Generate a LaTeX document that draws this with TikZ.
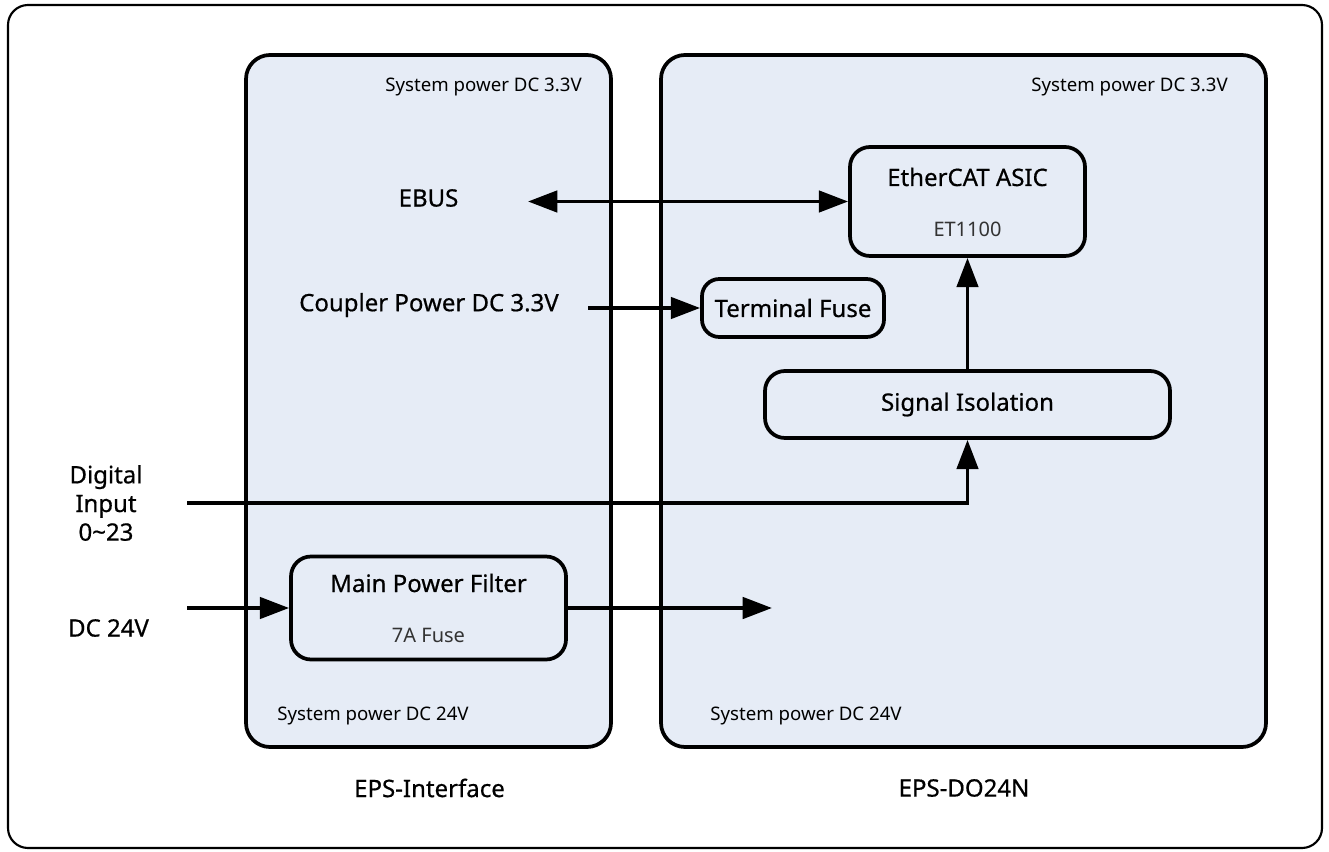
\documentclass[tikz,border=0pt]{standalone}
\usepackage{fontspec}
\setmainfont{Noto Sans}
\newfontfamily\lblfont{Noto Sans}[FakeBold=0.6]
\usetikzlibrary{arrows.meta}
\definecolor{boxfill}{RGB}{230,236,246}
\tikzset{
  px/.style={x=0.75pt,y=-0.75pt},
  container/.style={draw, line width=2.8pt, rounded corners=18pt, fill=boxfill, inner sep=0pt},
  blk/.style={draw, line width=2.8pt, rounded corners=15pt, fill=boxfill, inner sep=0pt},
  lbl/.style={font=\lblfont\fontsize{18}{21.5}\selectfont, inner sep=0pt, align=center},
  small/.style={font=\fontsize{14}{16}\selectfont, inner sep=0pt},
  sub/.style={font=\fontsize{15}{18}\selectfont, text=black!80, inner sep=0pt},
  tip/.tip={Triangle[length=22pt,width=16pt]},
  arr/.style={line width=2.8pt, -tip},
  darr/.style={line width=2.8pt, tip-tip},
}
\begin{document}
\begin{tikzpicture}[px]
\useasboundingbox (0,0) rectangle (1329,852);
\fill[white] (0,0) rectangle (1329,852);
% outer frame
\draw[line width=1.6pt, rounded corners=15pt] (8,5) rectangle (1322,848);
% containers
\node[container, minimum width=365*0.75pt, minimum height=692*0.75pt] (iface) at (428.5,401) {};
\node[container, minimum width=605*0.75pt, minimum height=692*0.75pt] (do24) at (963.5,401) {};
% container texts
\node[small, anchor=east] (i33) at (582,87) {System power DC 3.3V};
\node[small, anchor=east] (d33) at (1228,87) {System power DC 3.3V};
\node[small] (i24) at (373,716) {System power DC 24V};
\node[small] (d24) at (806,716) {System power DC 24V};
\node[lbl] (ifname) at (429.5,788) {EPS-Interface};
\node[lbl] (doname) at (964,788) {EPS-DO24N};
% blocks
\node[blk, minimum width=235*0.75pt, minimum height=109*0.75pt] (asic) at (967.5,201.5) {};
\node[lbl] (asict) at (967.5,177) {EtherCAT ASIC};
\node[sub] (asics) at (967.5,229) {ET1100};
\node[blk, rounded corners=13pt, minimum width=182*0.75pt, minimum height=58*0.75pt, lbl] (tfuse) at (793,308) {Terminal Fuse};
\node[blk, minimum width=405*0.75pt, minimum height=67*0.75pt, lbl] (sigiso) at (967.5,404.5) {Signal Isolation};
\node[blk, minimum width=275*0.75pt, minimum height=103*0.75pt] (mpf) at (428.5,608) {};
\node[lbl] (mpft) at (428.5,583) {Main Power Filter};
\node[sub] (mpfs) at (428.5,635) {7A Fuse};
% left labels
\node[lbl] (ebus) at (428.5,198) {EBUS};
\node[lbl] (coupler) at (429,305) {Coupler Power DC 3.3V};
\node[lbl] (din) at (106,503) {Digital\\Input\\0\textasciitilde 23};
\node[lbl] (dc24) at (108.5,628) {DC 24V};
% coordinates
\coordinate (ebusE) at (528,201.5);
\coordinate (cplE) at (588,308);
\coordinate (dinE) at (187,503);
\coordinate (dinC) at (967.5,503);
\coordinate (dcE) at (187,608);
\coordinate (pwrOut) at (772,608);
% connectors
\draw[darr] (ebusE) -- (asic.west);
\draw[arr] (cplE) -- (tfuse.west);
\draw[arr] (sigiso.north) -- (asic.south);
\draw[arr] (dinE) -- (dinC) -- (sigiso.south);
\draw[arr] (dcE) -- (mpf.west);
\draw[arr] (mpf.east) -- (pwrOut);
\end{tikzpicture}
\end{document}
